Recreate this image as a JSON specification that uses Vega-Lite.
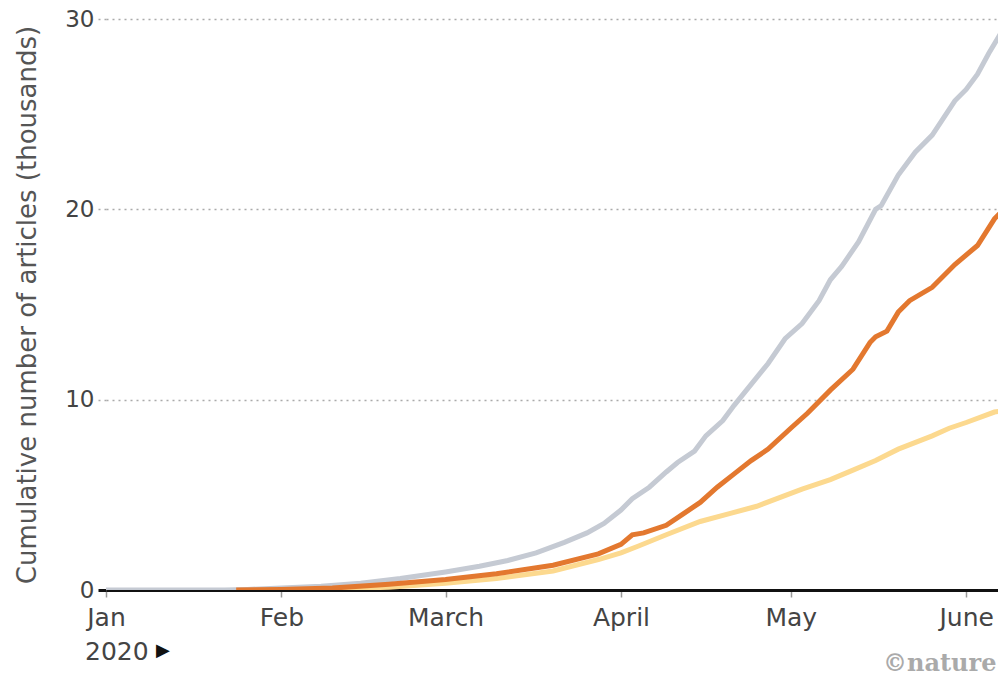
{
  "$schema": "https://vega.github.io/schema/vega-lite/v6.json",
  "width": 892,
  "height": 571,
  "autosize": {"type": "none"},
  "padding": {"left": 106, "top": 19, "right": 0, "bottom": 88},
  "background": "white",
  "config": {"view": {"stroke": null}, "font": "DejaVu Sans"},
  "datasets": {
    "series": [
      {"series": "Total", "date": "2020-01-01", "value": 0},
      {"series": "Total", "date": "2020-01-22", "value": 0},
      {"series": "Total", "date": "2020-01-26", "value": 0.03},
      {"series": "Total", "date": "2020-02-01", "value": 0.1},
      {"series": "Total", "date": "2020-02-08", "value": 0.2},
      {"series": "Total", "date": "2020-02-15", "value": 0.35},
      {"series": "Total", "date": "2020-02-22", "value": 0.6},
      {"series": "Total", "date": "2020-03-01", "value": 0.95},
      {"series": "Total", "date": "2020-03-07", "value": 1.25},
      {"series": "Total", "date": "2020-03-12", "value": 1.55},
      {"series": "Total", "date": "2020-03-17", "value": 1.95},
      {"series": "Total", "date": "2020-03-22", "value": 2.5},
      {"series": "Total", "date": "2020-03-26", "value": 3.0},
      {"series": "Total", "date": "2020-03-29", "value": 3.5},
      {"series": "Total", "date": "2020-04-01", "value": 4.2},
      {"series": "Total", "date": "2020-04-03", "value": 4.8},
      {"series": "Total", "date": "2020-04-06", "value": 5.4},
      {"series": "Total", "date": "2020-04-09", "value": 6.2},
      {"series": "Total", "date": "2020-04-11", "value": 6.7},
      {"series": "Total", "date": "2020-04-14", "value": 7.3},
      {"series": "Total", "date": "2020-04-16", "value": 8.1},
      {"series": "Total", "date": "2020-04-19", "value": 8.9},
      {"series": "Total", "date": "2020-04-21", "value": 9.7},
      {"series": "Total", "date": "2020-04-24", "value": 10.8},
      {"series": "Total", "date": "2020-04-27", "value": 11.9},
      {"series": "Total", "date": "2020-04-30", "value": 13.2},
      {"series": "Total", "date": "2020-05-03", "value": 14.0},
      {"series": "Total", "date": "2020-05-06", "value": 15.2},
      {"series": "Total", "date": "2020-05-08", "value": 16.3},
      {"series": "Total", "date": "2020-05-10", "value": 17.0},
      {"series": "Total", "date": "2020-05-13", "value": 18.3},
      {"series": "Total", "date": "2020-05-16", "value": 20.0},
      {"series": "Total", "date": "2020-05-17", "value": 20.2},
      {"series": "Total", "date": "2020-05-20", "value": 21.8},
      {"series": "Total", "date": "2020-05-23", "value": 23.0},
      {"series": "Total", "date": "2020-05-26", "value": 23.9},
      {"series": "Total", "date": "2020-05-30", "value": 25.7},
      {"series": "Total", "date": "2020-06-01", "value": 26.3},
      {"series": "Total", "date": "2020-06-03", "value": 27.1},
      {"series": "Total", "date": "2020-06-05", "value": 28.2},
      {"series": "Total", "date": "2020-06-07", "value": 29.2},
      {"series": "Total", "date": "2020-06-09", "value": 30.1},

      {"series": "Preprints", "date": "2020-01-30", "value": 0},
      {"series": "Preprints", "date": "2020-02-10", "value": 0.03},
      {"series": "Preprints", "date": "2020-02-20", "value": 0.15},
      {"series": "Preprints", "date": "2020-03-01", "value": 0.35},
      {"series": "Preprints", "date": "2020-03-10", "value": 0.6},
      {"series": "Preprints", "date": "2020-03-20", "value": 1.0},
      {"series": "Preprints", "date": "2020-03-28", "value": 1.6},
      {"series": "Preprints", "date": "2020-04-01", "value": 1.95},
      {"series": "Preprints", "date": "2020-04-04", "value": 2.3},
      {"series": "Preprints", "date": "2020-04-09", "value": 2.9},
      {"series": "Preprints", "date": "2020-04-15", "value": 3.6},
      {"series": "Preprints", "date": "2020-04-20", "value": 4.0},
      {"series": "Preprints", "date": "2020-04-25", "value": 4.4},
      {"series": "Preprints", "date": "2020-05-03", "value": 5.3},
      {"series": "Preprints", "date": "2020-05-08", "value": 5.8},
      {"series": "Preprints", "date": "2020-05-12", "value": 6.3},
      {"series": "Preprints", "date": "2020-05-16", "value": 6.8},
      {"series": "Preprints", "date": "2020-05-20", "value": 7.4},
      {"series": "Preprints", "date": "2020-05-26", "value": 8.1},
      {"series": "Preprints", "date": "2020-05-29", "value": 8.5},
      {"series": "Preprints", "date": "2020-06-01", "value": 8.8},
      {"series": "Preprints", "date": "2020-06-06", "value": 9.35},
      {"series": "Preprints", "date": "2020-06-09", "value": 9.5},

      {"series": "Journal", "date": "2020-01-24", "value": 0},
      {"series": "Journal", "date": "2020-02-01", "value": 0.03},
      {"series": "Journal", "date": "2020-02-10", "value": 0.1},
      {"series": "Journal", "date": "2020-02-20", "value": 0.3},
      {"series": "Journal", "date": "2020-03-01", "value": 0.55},
      {"series": "Journal", "date": "2020-03-10", "value": 0.85},
      {"series": "Journal", "date": "2020-03-20", "value": 1.3},
      {"series": "Journal", "date": "2020-03-28", "value": 1.9},
      {"series": "Journal", "date": "2020-04-01", "value": 2.4},
      {"series": "Journal", "date": "2020-04-03", "value": 2.9},
      {"series": "Journal", "date": "2020-04-05", "value": 3.0},
      {"series": "Journal", "date": "2020-04-09", "value": 3.4},
      {"series": "Journal", "date": "2020-04-12", "value": 4.0},
      {"series": "Journal", "date": "2020-04-15", "value": 4.6},
      {"series": "Journal", "date": "2020-04-18", "value": 5.4},
      {"series": "Journal", "date": "2020-04-21", "value": 6.1},
      {"series": "Journal", "date": "2020-04-24", "value": 6.8},
      {"series": "Journal", "date": "2020-04-27", "value": 7.4},
      {"series": "Journal", "date": "2020-05-01", "value": 8.5},
      {"series": "Journal", "date": "2020-05-04", "value": 9.3},
      {"series": "Journal", "date": "2020-05-08", "value": 10.5},
      {"series": "Journal", "date": "2020-05-12", "value": 11.6},
      {"series": "Journal", "date": "2020-05-15", "value": 13.0},
      {"series": "Journal", "date": "2020-05-16", "value": 13.3},
      {"series": "Journal", "date": "2020-05-18", "value": 13.6},
      {"series": "Journal", "date": "2020-05-20", "value": 14.6},
      {"series": "Journal", "date": "2020-05-22", "value": 15.2},
      {"series": "Journal", "date": "2020-05-26", "value": 15.9},
      {"series": "Journal", "date": "2020-05-30", "value": 17.1},
      {"series": "Journal", "date": "2020-06-03", "value": 18.1},
      {"series": "Journal", "date": "2020-06-06", "value": 19.5},
      {"series": "Journal", "date": "2020-06-09", "value": 20.4}
    ]
  },
  "data": {"name": "series"},
  "encoding": {
    "x": {
      "field": "date",
      "type": "temporal",
      "scale": {
        "type": "utc",
        "domain": [
          {"year": 2020, "month": 1, "date": 1, "utc": true},
          {"year": 2020, "month": 6, "date": 6, "hours": 15, "utc": true}
        ]
      },
      "axis": {
        "title": null,
        "values": [
          {"year": 2020, "month": 1, "date": 1, "utc": true},
          {"year": 2020, "month": 2, "date": 1, "utc": true},
          {"year": 2020, "month": 3, "date": 1, "utc": true},
          {"year": 2020, "month": 4, "date": 1, "utc": true},
          {"year": 2020, "month": 5, "date": 1, "utc": true},
          {"year": 2020, "month": 6, "date": 1, "utc": true}
        ],
        "labelExpr": "['Jan','Feb','March','April','May','June'][utcmonth(datum.value)]",
        "labelFontSize": 25,
        "labelColor": "#444",
        "labelPadding": 8,
        "labelFlush": false,
        "labelOverlap": false,
        "tickColor": "#999",
        "tickSize": 7,
        "tickWidth": 1.5,
        "domainColor": "#111",
        "domainWidth": 3,
        "grid": false
      }
    },
    "y": {
      "field": "value",
      "type": "quantitative",
      "scale": {"domain": [0, 30], "nice": false},
      "axis": {
        "values": [0, 10, 20, 30],
        "title": "Cumulative number of articles (thousands)",
        "titleFontSize": 26,
        "titleFontWeight": "normal",
        "titleColor": "#555",
        "titlePadding": 24,
        "labelFontSize": 23,
        "labelColor": "#444",
        "labelPadding": 4,
        "tickSize": 8,
        "tickColor": {"condition": {"test": "datum.value === 0", "value": "#111"}, "value": "#aaa"},
        "tickWidth": {"condition": {"test": "datum.value === 0", "value": 3}, "value": 1.5},
        "tickDash": {"condition": {"test": "datum.value === 0", "value": []}, "value": [2, 4]},
        "grid": true,
        "gridColor": "#aaa",
        "gridDash": [2, 4],
        "gridWidth": 1.5,
        "domain": false
      }
    }
  },
  "layer": [
    {
      "transform": [{"filter": "datum.series === 'Total'"}],
      "mark": {"type": "line", "color": "#c5cad3", "strokeWidth": 5, "clip": true}
    },
    {
      "transform": [{"filter": "datum.series === 'Preprints'"}],
      "mark": {"type": "line", "color": "#fcd98f", "strokeWidth": 5, "clip": true}
    },
    {
      "transform": [{"filter": "datum.series === 'Journal'"}],
      "mark": {"type": "line", "color": "#e3782f", "strokeWidth": 5, "clip": true}
    },
    {
      "data": {"values": [{"date": "2020-01-01", "value": 0, "label": "2020"}]},
      "mark": {"type": "text", "align": "left", "baseline": "middle", "dx": -21, "dy": 62, "fontSize": 25, "color": "#444"},
      "encoding": {"text": {"field": "label"}}
    },
    {
      "data": {"values": [{"date": "2020-01-01", "value": 0, "label": "▶"}]},
      "mark": {"type": "text", "align": "left", "baseline": "middle", "dx": 50, "dy": 61, "fontSize": 18, "color": "#111"},
      "encoding": {"text": {"field": "label"}}
    },
    {
      "data": {"values": [{"date": "2020-06-06", "value": 0, "label": "©nature"}]},
      "mark": {"type": "text", "align": "right", "baseline": "middle", "dx": 2, "dy": 74, "fontSize": 24, "font": "DejaVu Serif", "fontWeight": "bold", "color": "#aaa"},
      "encoding": {"text": {"field": "label"}}
    }
  ]
}
